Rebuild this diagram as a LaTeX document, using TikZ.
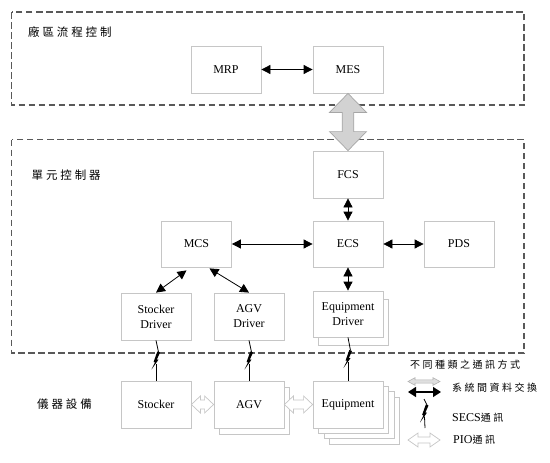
\documentclass[tikz,border=0pt]{standalone}
\usepackage{fontspec}
\setmainfont{Liberation Serif}
\newfontfamily\cjk[LetterSpace=25]{Noto Sans CJK TC}
\usetikzlibrary{arrows.meta,calc}

% hollow double arrow from #2 to #3: head length #4, head half width #5, shaft half width #6
\newcommand{\fatarrow}[6]{%
	\coordinate (fa1) at ($(#2)!#4!(#3)$);
	\coordinate (fa2) at ($(#3)!#4!(#2)$);
	\path[#1] (#2) -- ($(fa1)!#5!90:(#3)$) -- ($(fa1)!#6!90:(#3)$) -- ($(fa2)!#6!-90:(#2)$)
		-- ($(fa2)!#5!-90:(#2)$) -- (#3) -- ($(fa2)!#5!90:(#2)$) -- ($(fa2)!#6!90:(#2)$)
		-- ($(fa1)!#6!-90:(#3)$) -- ($(fa1)!#5!-90:(#3)$) -- cycle;}

\begin{document}
\begin{tikzpicture}[x=1pt, y=-1pt,
	box/.style={draw=gray!45, line width=0.8pt, fill=white, minimum width=70pt, minimum height=47pt,
		inner sep=0pt, align=center, font=\fontsize{12}{15}\selectfont},
	zone/.style={draw=black!65, line width=1.2pt, dash pattern=on 6.5pt off 3.5pt},
	zonelabel/.style={anchor=west, inner sep=0pt, font=\cjk\fontsize{11.5}{13}\selectfont},
	legend/.style={anchor=west, inner sep=0pt, font=\cjk\fontsize{10}{12}\selectfont},
	link/.style={{Triangle[length=9pt,width=9pt]}-{Triangle[length=9pt,width=9pt]}, line width=0.8pt},
	secs/.style={line width=0.8pt},
	bigarrow/.style={draw=gray!70, line width=0.7pt, fill=gray!35},
	pio/.style={draw=gray!45, line width=0.7pt, fill=white}]

	\useasboundingbox (0, 0) rectangle (550, 463);

	% zones
	\draw[zone] (11.5, 12) rectangle (524, 105);
	\draw[zone] (11.5, 139.5) rectangle (524, 353);
	\node[zonelabel] (lblPlant) at (28, 32) {廠區流程控制};
	\node[zonelabel] (lblCell) at (31.5, 175) {單元控制器};
	\node[zonelabel] (lblTool) at (37, 404) {儀器設備};

	% stacked copies behind
	\node[box, minimum height=46pt] (EDs) at (353, 322) {};
	\node[box] (AGVs) at (254, 410.5) {};
	\foreach \k in {3, 2, 1}
		\node[box] (Equips\k) at (348 + 5.5*\k, 404.5 + 5.3*\k) {};

	% boxes
	\node[box] (MRP) at (226, 69.5) {MRP};
	\node[box] (MES) at (348, 69.5) {MES};
	\node[box] (FCS) at (348, 174.5) {FCS};
	\node[box, minimum height=46pt] (MCS) at (196.5, 244) {MCS};
	\node[box, minimum height=46pt] (ECS) at (348, 244) {ECS};
	\node[box, minimum height=46pt] (PDS) at (459, 244) {PDS};
	\node[box] (SD) at (156, 316.5) {Stocker\\Driver};
	\node[box] (AD) at (249, 316.5) {AGV\\Driver};
	\node[box, minimum height=46pt] (ED) at (348, 314) {Equipment\\Driver};
	\node[box] (Stocker) at (156, 404.5) {Stocker};
	\node[box] (AGV) at (249, 404.5) {AGV};
	\node[box] (Equip) at (348, 404.5) {Equipment};

	% data exchange
	\draw[link] (MRP) -- (MES);
	\draw[link] (FCS) -- (ECS);
	\draw[link] (MCS) -- (ECS);
	\draw[link] (ECS) -- (PDS);
	\draw[link] (ECS) -- (ED);
	\draw[link] ($(MCS.south)+(-10, 3)$) -- (SD.north);
	\draw[link] ($(MCS.south)+(13, 1)$) -- (AD.north);
	\fatarrow{bigarrow}{MES.south}{FCS.north}{19pt}{18.5pt}{5.8pt}

	% PIO
	\fatarrow{pio}{Stocker.east}{AGV.west}{9pt}{8.5pt}{4.5pt}
	\fatarrow{pio}{AGV.east}{Equip.west}{9pt}{8.5pt}{4.5pt}

	% legend
	\node[legend] (lgTitle) at (410, 365) {不同種類之通訊方式};
	\node[legend] (lgData) at (452, 388) {系統間資料交換};
	\node[legend] (lgSecs) at (452, 418) {{\rmfamily\fontsize{12}{14}\selectfont SECS}通訊};
	\node[legend] (lgPio) at (453, 440) {{\rmfamily\fontsize{12}{14}\selectfont PIO}通訊};
	\coordinate (lgG1) at (408, 381.5);
	\coordinate (lgG2) at (440, 381.5);
	\coordinate (lgB1) at (408, 392);
	\coordinate (lgB2) at (441, 392);
	\coordinate (lgS1) at (424, 399);
	\coordinate (lgS2) at (425, 428);
	\coordinate (lgP1) at (408, 440);
	\coordinate (lgP2) at (440, 440);
	\fatarrow{{draw=gray!60, line width=0.6pt, fill=gray!25}}{lgG1}{lgG2}{7pt}{3.8pt}{1.6pt}
	\draw[{Triangle[length=8pt,width=10pt]}-{Triangle[length=8pt,width=10pt]}, line width=1.3pt] (lgB1) -- (lgB2);
	\fatarrow{pio}{lgP1}{lgP2}{10pt}{7pt}{3pt}

	% SECS links
	\foreach \a/\b in {SD.south/Stocker.north, AD.south/AGV.north, ED.south/Equip.north, lgS1/lgS2}{
		\coordinate (m) at ($(\a)!0.5!(\b)$);
		\draw[secs] (\a) -- ($(m)+(2.5, -8.5)$);
		\fill ($(m)+(1.3, -9)$) -- ($(m)+(4, -8)$) -- ($(m)+(0.9, -1)$) -- ($(m)+(2.6, -1)$)
			-- ($(m)+(-4.5, 9)$) -- ($(m)+(-0.9, 1.5)$) -- ($(m)+(-2.4, 1.5)$) -- cycle;
		\draw[secs] ($(m)+(0, 3)$) -- (\b);
	}

\end{tikzpicture}
\end{document}
